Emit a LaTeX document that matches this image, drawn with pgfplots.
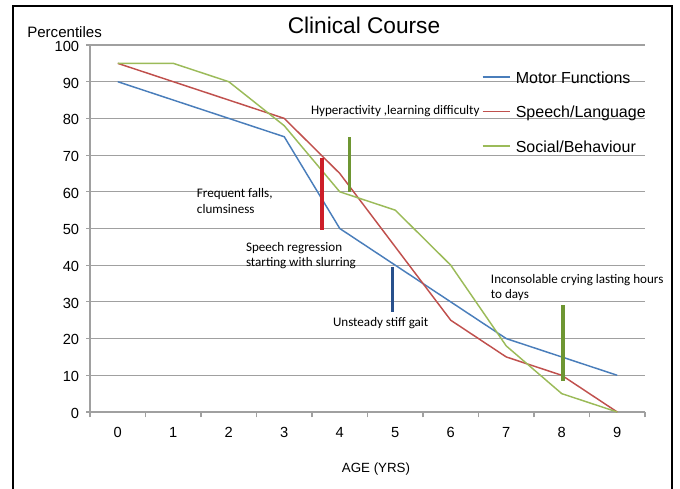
\documentclass[border=0pt]{standalone}
\usepackage{pgfplots}
\pgfplotsset{compat=1.18}
\usepackage{fontspec}
\setmainfont{Liberation Sans}
\newfontfamily\calfont{Carlito}
\definecolor{mblue}{RGB}{74,126,187}
\definecolor{mred}{RGB}{192,80,77}
\definecolor{mgreen}{RGB}{155,187,89}
\definecolor{bred}{RGB}{205,30,40}
\definecolor{bgreen}{RGB}{110,150,50}
\definecolor{bblue}{RGB}{40,80,140}
\definecolor{gridgray}{RGB}{160,160,160}
\begin{document}
\begin{tikzpicture}
\useasboundingbox (0,0) rectangle (510pt,366pt);
\draw[black, line width=1.5pt] (9.75pt,-2pt) -- (9.75pt,361.5pt) -- (504pt,361.5pt) -- (504pt,-2pt);
\begin{axis}[
  scale only axis,
  width=416.25pt, height=275.25pt,
  at={(67.5pt,57pt)}, anchor=south west,
  xmin=-0.5, xmax=9.5, ymin=0, ymax=100,
  axis lines*=left,
  axis line style={gridgray, line width=0.8pt},
  xtick={0,...,9},
  minor xtick={-0.5,0.5,...,9.5},
  ytick={0,10,...,100},
  ymajorgrids,
  grid style={gridgray, line width=0.8pt},
  major x tick style={draw=none},
  minor x tick style={gridgray, line width=0.8pt},
  major y tick style={gridgray, line width=0.8pt},
  minor tick length=4pt,
  major tick length=3pt,
  tick align=outside,
  tick pos=left,
  /pgf/number format/assume math mode=true,
  ticklabel style={font=\fontsize{11}{13}\selectfont, inner sep=0pt},
  xticklabel style={anchor=north, yshift=-8pt},
  yticklabel style={anchor=east, xshift=-5pt, yshift=-1pt},
  title={Clinical Course},
  title style={at={(rel axis cs:0.4937,1)}, anchor=base, yshift=2.25pt, inner sep=0pt, font=\fontsize{17}{20}\selectfont},
  ylabel={Percentiles},
  ylabel style={rotate=-90, at={(rel axis cs:-0.1135,1)}, anchor=base west, yshift=5.25pt, inner sep=0pt, font=\fontsize{11.3}{13}\selectfont},
  xlabel={AGE (YRS)},
  xlabel style={at={(rel axis cs:0.5153,0)}, anchor=center, yshift=-42.75pt, inner sep=0pt, font=\fontsize{10}{12}\selectfont},
  legend style={at={(rel axis cs:0.7063,0.929)}, anchor=north west, draw=none, fill=none,
    inner sep=0pt, outer sep=0pt, font=\fontsize{12}{14}\selectfont,
    row sep=13.9pt, column sep=3.75pt,
    nodes={inner sep=0pt, text height=9pt, text depth=3pt}},
  legend cell align=left,
  legend image code/.code={\draw[#1] (0pt,1.5pt) -- (20.5pt,1.5pt);},
  clip=false,
]
\addplot[mblue, line width=1.1pt] coordinates {(0,90) (1,85) (2,80) (3,75) (4,50) (5,40) (6,30) (7,20) (8,15) (9,10)};
\addlegendentry{Motor Functions}
\addplot[mred, line width=1.1pt] coordinates {(0,95) (1,90) (2,85) (3,80) (4,65) (5,45) (6,25) (7,15) (8,10) (9,0)};
\addlegendentry{Speech/Language}
\addplot[mgreen, line width=1.1pt] coordinates {(0,95) (1,95) (2,90) (3,78) (4,60) (5,55) (6,40) (7,18) (8,5) (9,0)};
\addlegendentry{Social/Behaviour}
\addplot[bred, line width=2.5pt, forget plot] coordinates {(3.68,49.6) (3.68,69.2)};
\addplot[bgreen, line width=2.3pt, forget plot] coordinates {(4.18,60) (4.18,74.9)};
\addplot[bblue, line width=2pt, forget plot] coordinates {(4.955,27.3) (4.955,39.5)};
\addplot[bgreen, line width=3pt, forget plot] coordinates {(8.02,8.4) (8.02,29.2)};
\node[anchor=west, inner sep=0pt, font=\calfont\fontsize{9.8}{11.6}\selectfont] at (axis cs:3.478,82) {Hyperactivity ,learning difficulty};
\node[anchor=west, inner sep=0pt, align=left, font=\calfont\fontsize{9.8}{11.6}\selectfont] at (axis cs:1.423,57.5) {Frequent falls,\\clumsiness};
\node[anchor=west, inner sep=0pt, align=left, font=\calfont\fontsize{9.8}{11.6}\selectfont] at (axis cs:2.306,42.6) {Speech regression\\starting with slurring};
\node[anchor=west, inner sep=0pt, font=\calfont\fontsize{9.8}{11.6}\selectfont] at (axis cs:3.874,24.3) {Unsteady stiff gait};
\node[anchor=west, inner sep=0pt, align=left, font=\calfont\fontsize{9.8}{11.6}\selectfont] at (axis cs:6.72,33.9) {Inconsolable crying lasting hours\\to days};
\end{axis}
\end{tikzpicture}
\end{document}
